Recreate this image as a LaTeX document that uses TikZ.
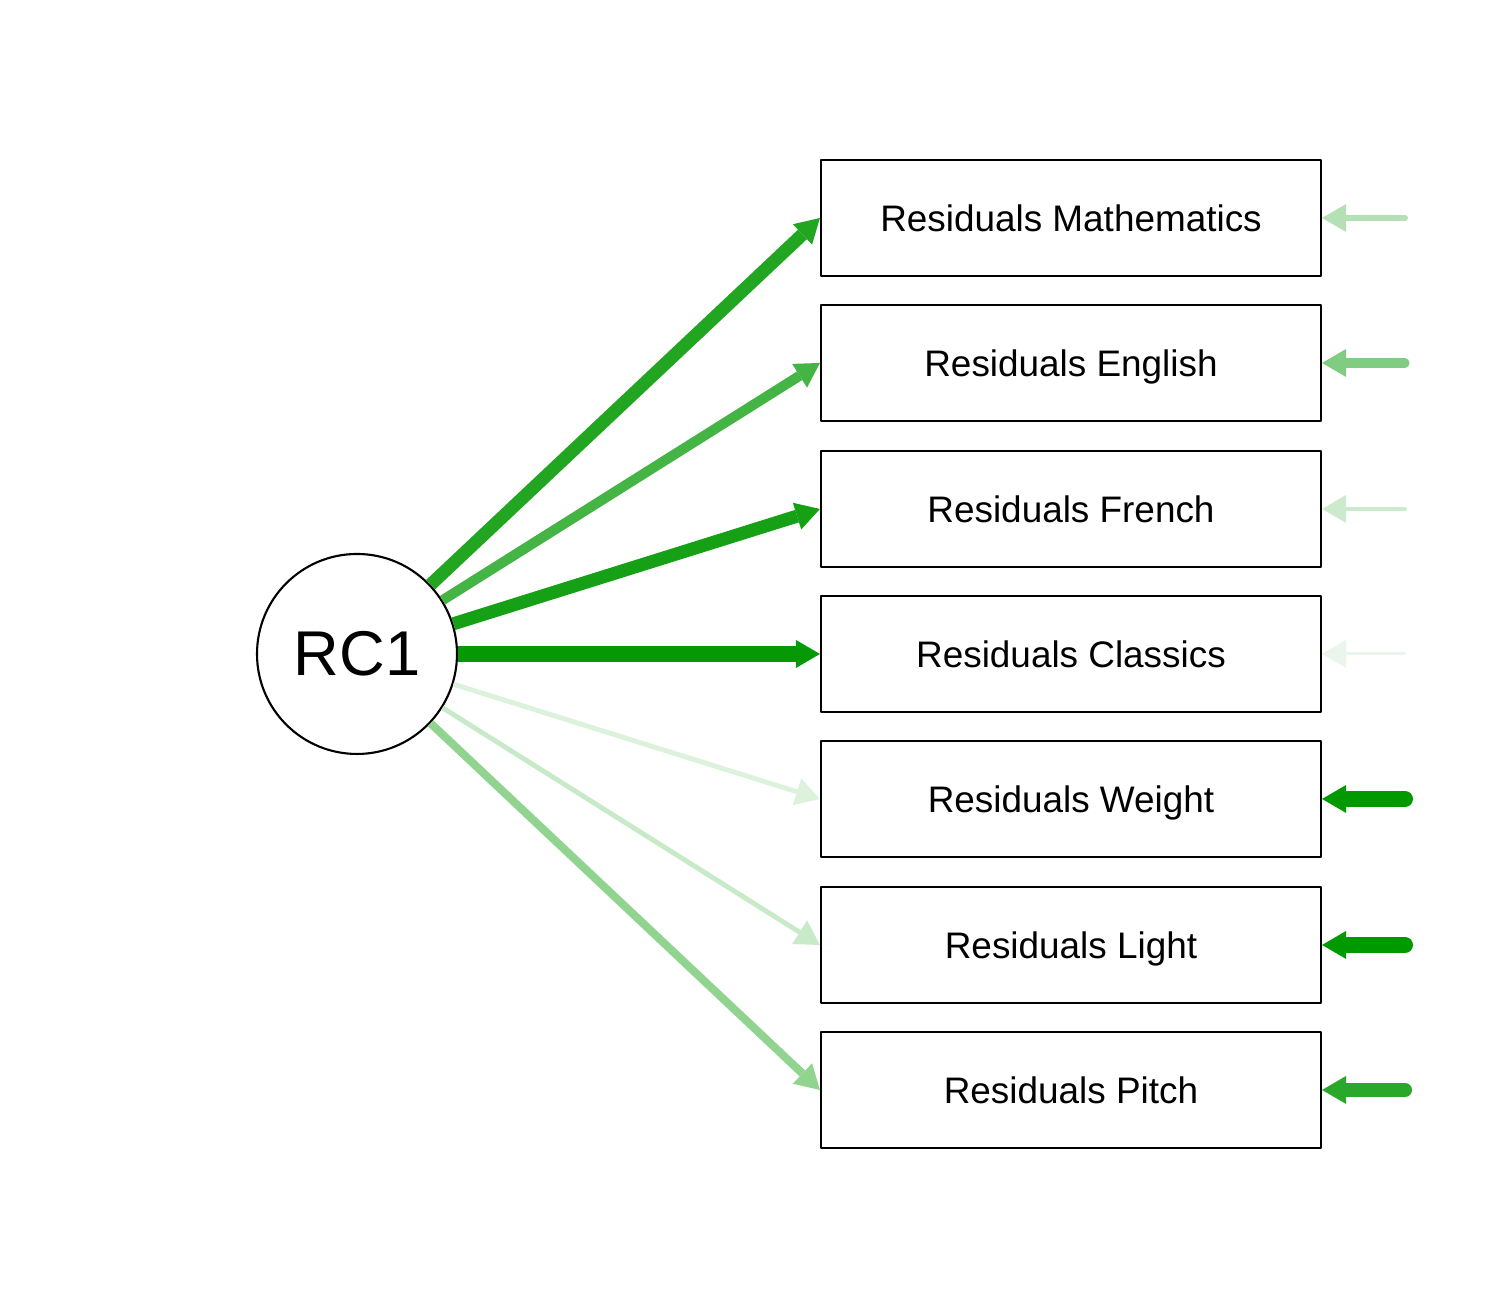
\documentclass[tikz,border=0pt]{standalone}
\usepackage{fontspec}
\setmainfont{Liberation Sans}
\usetikzlibrary{arrows.meta}
\definecolor{ldMath}{HTML}{22A622}
\definecolor{ldEng}{HTML}{44B444}
\definecolor{ldFre}{HTML}{15A015}
\definecolor{ldCla}{HTML}{069906}
\definecolor{ldWei}{HTML}{DCF2DC}
\definecolor{ldLig}{HTML}{C9EAC9}
\definecolor{ldPit}{HTML}{90D490}
\definecolor{rsMath}{HTML}{B5E0B5}
\definecolor{rsEng}{HTML}{80CC80}
\definecolor{rsFre}{HTML}{CCEACC}
\definecolor{rsCla}{HTML}{EAF6EA}
\definecolor{rsWei}{HTML}{009900}
\definecolor{rsLig}{HTML}{009900}
\definecolor{rsPit}{HTML}{2AA82A}

\begin{document}
\begin{tikzpicture}[line cap=round,line join=round,x=1cm,y=1cm,
		obs/.style={draw,line width=0.6pt,minimum width=5cm,minimum height=1.16cm,text height=7.6pt,text depth=0pt,font=\fontsize{10.5}{12}\selectfont},
		lat/.style={draw,circle,line width=0.6pt,minimum size=2cm,inner sep=0pt,font=\fontsize{18}{21}\selectfont},
		load/.style={-{Triangle[length=0.24cm,width=0.28cm,line width=0pt]},line cap=butt},
		resid/.style={-{Triangle[length=0.24cm,width=0.28cm,line width=0pt]},line cap=round}]
			\useasboundingbox (0,0) rectangle (15,13.09);
			% latent factor and observed variables
			\node[lat] (rc) at (3.57,6.55) {RC1};
			\node[obs] (math) at (10.71,10.91) {Residuals Mathematics};
			\node[obs] (eng) at (10.71,9.46) {Residuals English};
			\node[obs] (fre) at (10.71,8.00) {Residuals French};
			\node[obs] (cla) at (10.71,6.55) {Residuals Classics};
			\node[obs] (wei) at (10.71,5.10) {Residuals Weight};
			\node[obs] (lig) at (10.71,3.64) {Residuals Light};
			\node[obs] (pit) at (10.71,2.19) {Residuals Pitch};
			% loadings
			\draw [load,line width=3.7pt,color=ldMath] (rc) -- (math.west);
			\draw [load,line width=2.85pt,color=ldEng] (rc) -- (eng.west);
			\draw [load,line width=3.7pt,color=ldFre] (rc) -- (fre.west);
			\draw [load,line width=4.55pt,color=ldCla] (rc) -- (cla.west);
			\draw [load,line width=1.4pt,color=ldWei] (rc) -- (wei.west);
			\draw [load,line width=1.4pt,color=ldLig] (rc) -- (lig.west);
			\draw [load,line width=2.3pt,color=ldPit] (rc) -- (pit.west);
			% residuals
			\coordinate (rmath) at (14.05,10.91);
			\coordinate (reng) at (14.05,9.46);
			\coordinate (rfre) at (14.05,8.00);
			\coordinate (rcla) at (14.05,6.55);
			\coordinate (rwei) at (14.05,5.10);
			\coordinate (rlig) at (14.05,3.64);
			\coordinate (rpit) at (14.05,2.19);
			\draw [resid,line width=1.7pt,color=rsMath] (rmath) -- (math.east);
			\draw [resid,line width=2.6pt,color=rsEng] (reng) -- (eng.east);
			\draw [resid,line width=1.15pt,color=rsFre] (rfre) -- (fre.east);
			\draw [resid,line width=0.85pt,color=rsCla] (rcla) -- (cla.east);
			\draw [resid,line width=4.55pt,color=rsWei] (rwei) -- (wei.east);
			\draw [resid,line width=4.55pt,color=rsLig] (rlig) -- (lig.east);
			\draw [resid,line width=4pt,color=rsPit] (rpit) -- (pit.east);
		\end{tikzpicture}
\end{document}
